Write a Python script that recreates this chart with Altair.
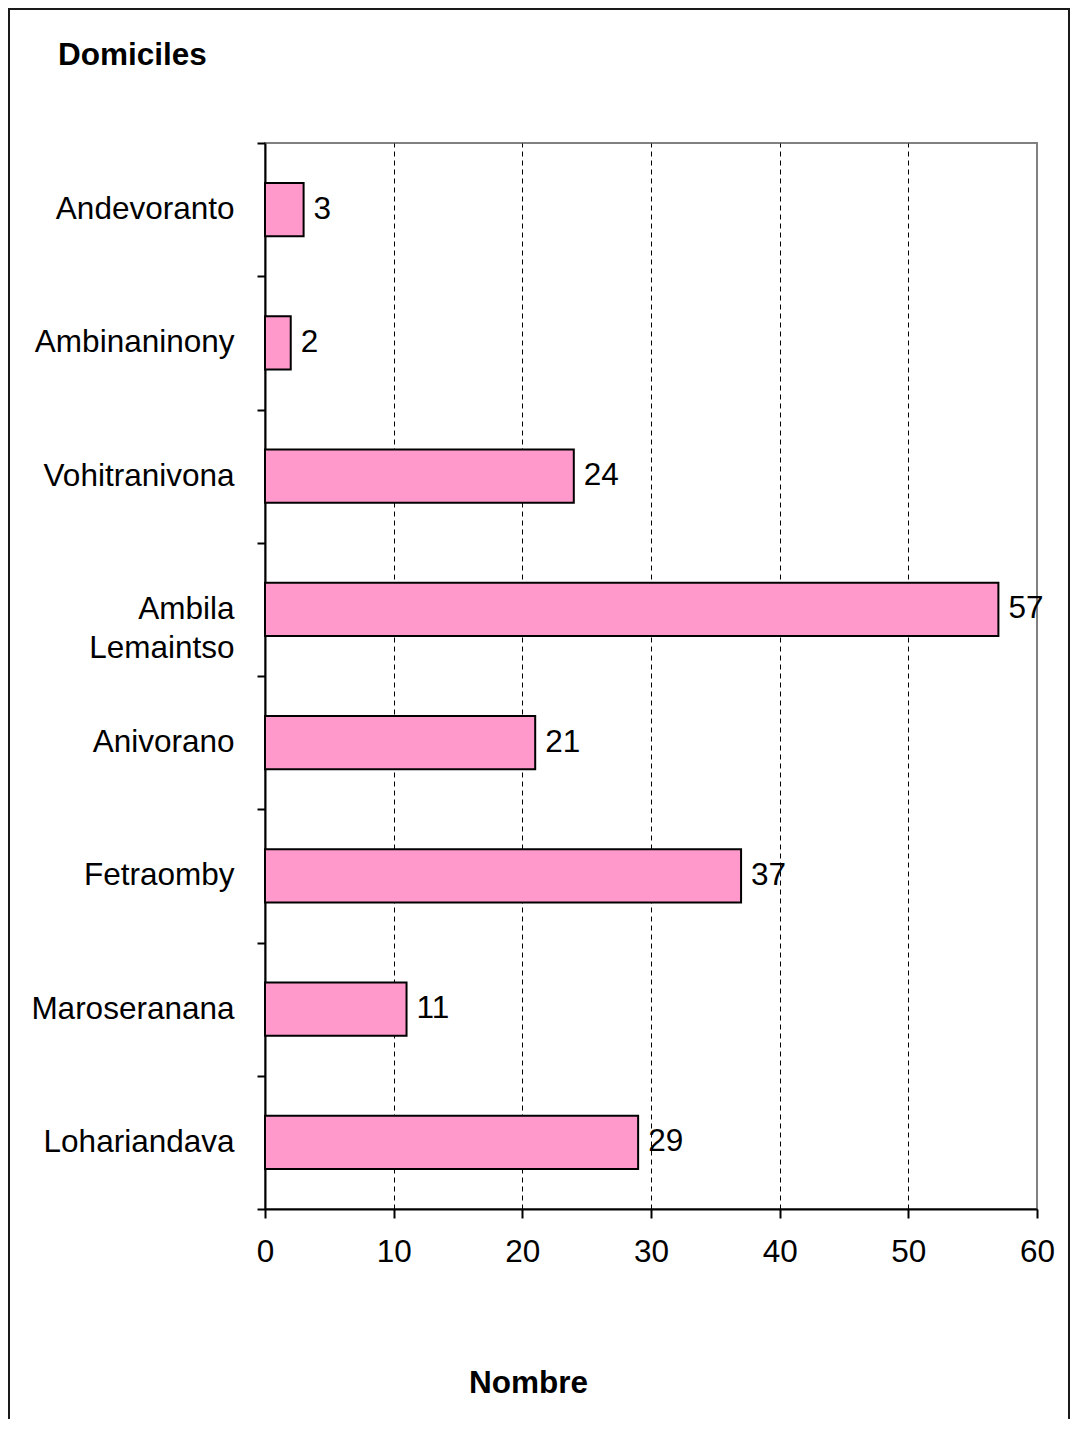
import altair as alt
import pandas as pd

categories = ["Andevoranto", "Ambinaninony", "Vohitranivona", "Ambila Lemaintso",
              "Anivorano", "Fetraomby", "Maroseranana", "Lohariandava"]
values = [3, 2, 24, 57, 21, 37, 11, 29]
x_ticks = [0, 10, 20, 30, 40, 50, 60]

df = pd.DataFrame({"lieu": categories, "nombre": values})
FONT = "Liberation Sans"
FS = 31.5

y_enc = alt.Y(
    "lieu:N",
    sort=categories,
    scale=alt.Scale(paddingInner=0, paddingOuter=0),
    axis=alt.Axis(
        title=None, tickBand="extent", tickSize=8, tickWidth=2, tickColor="black",
        domainColor="black", domainWidth=2, labelFontSize=FS, labelFont=FONT,
        labelColor="black", labelPadding=23, labelLineHeight=39, labelLimit=0,
        labelExpr="datum.label == 'Ambila Lemaintso' ? ['Ambila', 'Lemaintso'] : datum.label",
        grid=False,
    ),
)
x_enc = alt.X(
    "nombre:Q",
    scale=alt.Scale(domain=[0, 60], nice=False),
    axis=alt.Axis(
        values=x_ticks, title="Nombre", titleFont=FONT, titleFontSize=FS,
        titleFontWeight="bold", titleColor="black", titleX=263, titleY=183,
        titleAlign="center", titleBaseline="alphabetic",
        grid=True, gridDash=[5, 4], gridColor="#000000", gridWidth=1,
        gridOpacity={"condition": {"test": "datum.value == 0 || datum.value == 60", "value": 0}, "value": 1},
        tickSize=9, tickWidth=2, tickColor="black", domainColor="black", domainWidth=2,
        labelFont=FONT, labelFontSize=FS, labelColor="black", labelPadding=18,
        labelFlush=False,
    ),
)

frame = alt.Chart(pd.DataFrame({"a": [0]})).mark_rect(
    fill="transparent", stroke="#1a1a1a", strokeWidth=2
).encode(
    x=alt.value(-256), x2=alt.value(804), y=alt.value(-134), y2=alt.value(1300)
)

bars = alt.Chart(df).mark_bar(
    fill="#FF99CC", stroke="black", strokeWidth=2, height=alt.RelativeBandSize(0.4)
).encode(x=x_enc, y=y_enc)
labels = alt.Chart(df).mark_text(
    align="left", baseline="middle", dx=10, fontSize=FS, font=FONT, color="black"
).encode(x="nombre:Q", y=alt.Y("lieu:N", sort=categories), text="nombre:Q")

chart = alt.layer(frame, bars, labels).properties(
    width=772, height=1066,
    title=alt.TitleParams(
        "Domiciles", anchor="start", frame="group", dx=-207, dy=88, offset=0,
        baseline="alphabetic", font=FONT, fontSize=FS, fontWeight="bold", color="black",
    ),
    autosize=alt.AutoSizeParams(type="none"),
    padding={"left": 257, "top": 135, "right": 33, "bottom": 210},
).configure_view(stroke="#808080", strokeWidth=2)

chart.save("out.html", embed_options={"renderer": "svg", "actions": False})
